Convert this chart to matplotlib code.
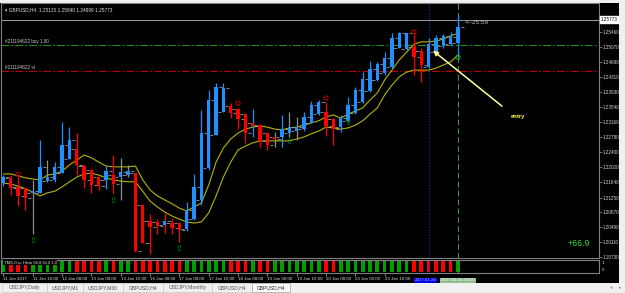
import matplotlib
matplotlib.use('Agg')
import matplotlib.pyplot as plt
import numpy as np
from matplotlib.patches import Rectangle
import matplotlib.transforms as mtrans

# ---------------- data ----------------
opens = [1.2162, 1.2175, 1.2152, 1.2149, 1.2137, 1.2137, 1.2167, 1.2170, 1.2187, 1.2223,
         1.2248, 1.2205, 1.2195, 1.2177, 1.2170, 1.2182, 1.2177, 1.2182, 1.2187, 1.2106,
         1.2065, 1.2063, 1.2055, 1.2060, 1.2060, 1.2045, 1.2070, 1.2119, 1.2200, 1.2284,
         1.2342, 1.2358, 1.2350, 1.2337, 1.2315, 1.2309, 1.2289, 1.2279, 1.2279, 1.2289,
         1.2294, 1.2299, 1.2315, 1.2337, 1.2342, 1.2325, 1.2304, 1.2320, 1.2340, 1.2368,
         1.2396, 1.2424, 1.2442, 1.2457, 1.2505, 1.2503, 1.2508, 1.2498, 1.2457, 1.2495,
         1.2510, 1.2515, 1.2518]
highs = [1.2182, 1.2182, 1.2182, 1.2152, 1.2170, 1.2271, 1.2220, 1.2215, 1.2317, 1.2304,
         1.2289, 1.2208, 1.2198, 1.2177, 1.2205, 1.2233, 1.2226, 1.2208, 1.2187, 1.2106,
         1.2083, 1.2070, 1.2086, 1.2073, 1.2060, 1.2114, 1.2185, 1.2348, 1.2398, 1.2416,
         1.2416, 1.2365, 1.2353, 1.2337, 1.2350, 1.2312, 1.2292, 1.2292, 1.2335, 1.2342,
         1.2330, 1.2342, 1.2370, 1.2373, 1.2368, 1.2327, 1.2335, 1.2381, 1.2406, 1.2444,
         1.2472, 1.2470, 1.2495, 1.2543, 1.2546, 1.2543, 1.2543, 1.2505, 1.2531, 1.2538,
         1.2541, 1.2546, 1.2589]
lows = [1.2154, 1.2131, 1.2103, 1.2093, 1.2032, 1.2137, 1.2165, 1.2165, 1.2187, 1.2223,
        1.2182, 1.2149, 1.2137, 1.2144, 1.2147, 1.2137, 1.2119, 1.2177, 1.1986, 1.2009,
        1.1981, 1.2032, 1.2035, 1.2032, 1.2012, 1.2040, 1.2068, 1.2106, 1.2195, 1.2284,
        1.2342, 1.2327, 1.2299, 1.2264, 1.2279, 1.2253, 1.2246, 1.2253, 1.2253, 1.2279,
        1.2271, 1.2294, 1.2315, 1.2335, 1.2281, 1.2259, 1.2292, 1.2317, 1.2337, 1.2365,
        1.2393, 1.2421, 1.2437, 1.2454, 1.2505, 1.2500, 1.2437, 1.2419, 1.2454, 1.2493,
        1.2505, 1.2513, 1.2482]
closes = [1.2177, 1.2149, 1.2129, 1.2124, 1.2141, 1.2203, 1.2177, 1.2203, 1.2259, 1.2271,
          1.2208, 1.2170, 1.2157, 1.2154, 1.2192, 1.2159, 1.2190, 1.2192, 1.1989, 1.2009,
          1.2050, 1.2053, 1.2065, 1.2048, 1.2042, 1.2093, 1.2152, 1.2289, 1.2373, 1.2406,
          1.2404, 1.2340, 1.2325, 1.2289, 1.2307, 1.2269, 1.2259, 1.2274, 1.2299, 1.2304,
          1.2304, 1.2330, 1.2360, 1.2368, 1.2307, 1.2299, 1.2327, 1.2360, 1.2398, 1.2426,
          1.2452, 1.2465, 1.2480, 1.2531, 1.2543, 1.2543, 1.2482, 1.2462, 1.2515, 1.2531,
          1.2536, 1.2533, 1.2559]
# trend state of each bar's wick: b = up, r = down, g = neutral
wick_state = ("brrrgbgbbb" "rrrrbrggrr" "rrrrrbbbbb" "brrrbrrgbg"
              "gbbbrrbbbb" "bbbbbbrrbb" "bbb")

band_upper = [1.2185, 1.2185, 1.2180, 1.2175, 1.2172, 1.2170, 1.2182, 1.2185, 1.2192, 1.2208,
              1.2220, 1.2233, 1.2226, 1.2215, 1.2205, 1.2203, 1.2203, 1.2203, 1.2205, 1.2170,
              1.2144, 1.2129, 1.2119, 1.2109, 1.2098, 1.2091, 1.2101, 1.2111, 1.2157, 1.2215,
              1.2251, 1.2274, 1.2289, 1.2299, 1.2304, 1.2307, 1.2304, 1.2299, 1.2297, 1.2302,
              1.2304, 1.2309, 1.2315, 1.2320, 1.2330, 1.2335, 1.2327, 1.2337, 1.2345, 1.2353,
              1.2373, 1.2391, 1.2424, 1.2449, 1.2475, 1.2495, 1.2515, 1.2521, 1.2521, 1.2523,
              1.2528, 1.2536, 1.2543]
band_lower = [1.2162, 1.2159, 1.2154, 1.2147, 1.2139, 1.2129, 1.2137, 1.2141, 1.2152, 1.2165,
              1.2177, 1.2185, 1.2187, 1.2182, 1.2175, 1.2170, 1.2167, 1.2165, 1.2165, 1.2141,
              1.2116, 1.2101, 1.2088, 1.2078, 1.2070, 1.2063, 1.2060, 1.2063, 1.2086, 1.2129,
              1.2177, 1.2215, 1.2246, 1.2256, 1.2264, 1.2269, 1.2269, 1.2269, 1.2269, 1.2269,
              1.2274, 1.2279, 1.2287, 1.2294, 1.2304, 1.2302, 1.2299, 1.2302, 1.2309, 1.2320,
              1.2337, 1.2353, 1.2386, 1.2411, 1.2432, 1.2444, 1.2449, 1.2449, 1.2449, 1.2454,
              1.2462, 1.2470, 1.2487]

sell_sig_idx = [2, 32, 44, 56]
sell_sig_px = [1.2184, 1.2365, 1.2378, 1.2546]
buy_sig_idx = [4, 15, 24, 39, 47]
buy_sig_px = [1.2027, 1.2129, 1.2007, 1.2279, 1.2327]
exit_sig_idx = [62]
exit_sig_px = [1.2482]

# oscillator histogram state (1 = green, 0 = red)
osc_state = [1, 0, 0, 0, 1, 1, 1, 1, 1, 1,
             0, 0, 0, 0, 1, 0, 1, 1, 0, 0,
             0, 0, 0, 0, 0, 1, 1, 1, 1, 1,
             1, 0, 0, 0, 1, 0, 0, 1, 1, 1,
             1, 1, 1, 1, 0, 0, 1, 1, 1, 1,
             1, 1, 1, 1, 1, 1, 0, 0, 0, 0,
             0, 0, 1]

price_ticks = [1.19730, 1.20110, 1.20490, 1.20870, 1.21250, 1.21640, 1.22020, 1.22400,
               1.22780, 1.23160, 1.23540, 1.23930, 1.24310, 1.24690, 1.25070, 1.25460]
time_idx = [0, 4, 8, 12, 16, 20, 24, 28, 32, 36, 40, 44, 48, 52]
time_labels = ["11 Jan 2017", "11 Jan 16:00", "12 Jan 08:00", "13 Jan 00:00", "13 Jan 16:00",
               "16 Jan 08:00", "17 Jan 00:00", "17 Jan 16:00", "18 Jan 08:00", "19 Jan 00:00",
               "19 Jan 16:00", "20 Jan 08:00", "23 Jan 00:00", "23 Jan 16:00"]
current_price = 1.25773
buy_price = 1.2513
sl_price = 1.24468
tabs = ["USDJPY,Daily", "USDJPY,M1", "USDJPY,M30", "GBPUSD,H4", "USDJPY,Monthly", "GBPUSD,H4", "GBPUSD,H4"]

# ---------------- figure ----------------
W, H = 625, 293
fig = plt.figure(figsize=(W / 100, H / 100), dpi=100, facecolor='#f0f0f0')
FONT = 'Liberation Sans'
plt.rcParams['font.family'] = [FONT, 'DejaVu Sans']


def fx(px):
    return px / W


def fy(py):
    return 1 - py / H


bg = fig.add_axes([0, fy(283), fx(619), (283 - 3) / H])
bg.set_facecolor('black')
bg.set_xticks([]); bg.set_yticks([])
for s in bg.spines.values():
    s.set_visible(False)

XL = (-0.27, 81.24)
ax = fig.add_axes([fx(1.5), fy(258), fx(599 - 1.5), (258 - 3) / H])
ax.set_facecolor('black')
ax.set_xlim(*XL)
ax.set_ylim(1.19712, 1.26197)
for s in ax.spines.values():
    s.set_color('#808080'); s.set_linewidth(0.8)

x = np.arange(len(opens))
o = np.array(opens); c = np.array(closes); h = np.array(highs); l = np.array(lows)
cmap = {'b': '#1e90ff', 'r': '#ff0000', 'g': '#909090'}
wcols = [cmap[s] for s in wick_state]
bcols = ['#1e90ff' if cc >= oo else '#ff0000' for oo, cc in zip(o, c)]

# bands
ax.plot(x, band_upper, color='#b4b400', lw=0.8, zorder=2)
ax.plot(x, band_lower, color='#b4b400', lw=0.8, zorder=2)

# gray open/close ticks
ax.hlines(o, x - 0.8, x - 0.35, color='#9a9a9a', lw=0.6, zorder=3)
ax.hlines(c, x + 0.35, x + 0.8, color='#9a9a9a', lw=0.6, zorder=3)
# wicks and bodies
ax.vlines(x, l, h, colors=wcols, lw=0.9, zorder=3)
bot = np.minimum(o, c)
ht = np.maximum(np.abs(c - o), 0.00026)
ax.bar(x, ht, bottom=bot, width=0.45, color=bcols, linewidth=0, zorder=4)

# order lines
ax.axhline(buy_price, color='#1f8f1f', lw=0.8, ls=(0, (7, 2, 1.5, 2)), zorder=1)
ax.axhline(sl_price, color='#c00000', lw=0.8, ls=(0, (7, 2, 1.5, 2)), zorder=1)
ax.axhline(current_price, color='#9a9a9a', lw=0.7, zorder=1)

# vertical lines
ax.axvline(62, color='#3c9a3c', lw=0.8, ls=(0, (5, 3)), zorder=1)
ax.axvline(58, color='#2020d0', lw=0.8, ls=(0, (1, 1.5)), zorder=1)

# signals
ax.scatter(sell_sig_idx, sell_sig_px, s=9, facecolors='none', edgecolors='#b00000', lw=0.8, zorder=5)
ax.scatter(exit_sig_idx, exit_sig_px, s=9, facecolors='none', edgecolors='#20a020', lw=0.8, zorder=5)
for i, p in zip(buy_sig_idx, buy_sig_px):
    ax.text(i, p, '\u21e7', color='#00a000', fontsize=6, ha='center', va='top',
            family='DejaVu Sans', zorder=5)

# texts
ax.text(0.006, 0.985, '\u25be GBPUSD,H4  1.25115 1.25840 1.24899 1.25773', transform=ax.transAxes,
        color='#e0e0e0', fontsize=3.4, ha='left', va='top', family=[FONT, 'DejaVu Sans'])
ax.text(0.006, buy_price + 0.0003, '#211194622 buy 1.00', color='#c8c8c8', fontsize=3.3,
        ha='left', va='bottom', transform=mtrans.blended_transform_factory(ax.transAxes, ax.transData))
ax.text(0.006, sl_price + 0.0003, '#211194622 sl', color='#c8c8c8', fontsize=3.3,
        ha='left', va='bottom', transform=mtrans.blended_transform_factory(ax.transAxes, ax.transData))
ax.text(62.9, 1.2571, '<--25:59', color='#c8c8c8', fontsize=4.6, ha='left', va='center')
ax.annotate('', xy=(58.3, 1.2503), xytext=(68.3, 1.2353),
            arrowprops=dict(arrowstyle='-|>', color='#ffff99', lw=1.1, mutation_scale=7), zorder=6)
ax.text(69.2, 1.2332, 'entry', color='#ffff40', fontsize=4.2, ha='left', va='center', fontweight='bold')
ax.text(0.948, 0.058, '+66.9', transform=ax.transAxes, color='#33dd33', fontsize=6.3,
        ha='left', va='center')

# price axis
ax.yaxis.tick_right()
ax.set_yticks(price_ticks)
ax.set_yticklabels(['%.5f' % p for p in price_ticks])
ax.tick_params(axis='y', colors='#808080', labelcolor='#d8d8d8', labelsize=3.3, length=2, width=0.6, pad=1)
ax.set_xticks([])
ax.text(1.003, current_price, '%.5f' % current_price, transform=mtrans.blended_transform_factory(ax.transAxes, ax.transData),
        color='black', fontsize=3.3, ha='left', va='center',
        bbox=dict(boxstyle='square,pad=0.15', fc='white', ec='white'))

# oscillator sub window
sub = fig.add_axes([fx(1.5), fy(273), fx(599 - 1.5), (273 - 259.5) / H])
sub.set_facecolor('black')
sub.set_xlim(*XL)
sub.set_ylim(-0.09, 1.14)
for s in sub.spines.values():
    s.set_color('#808080'); s.set_linewidth(0.8)
ocols = ['#00a000' if v else '#ff0000' for v in osc_state]
sub.bar(x, [1] * len(osc_state), width=0.5, color=ocols, linewidth=0)
sub.axvline(62, color='#3c9a3c', lw=0.8, ls=(0, (5, 3)))
sub.axvline(58, color='#2020d0', lw=0.8, ls=(0, (1, 1.5)))
sub.text(0.004, 0.75, 'TMS-Osc Histo 66.8 65.6 1.0', transform=sub.transAxes, color='#e0e0e0',
         fontsize=3.0, ha='left', va='center',
         bbox=dict(boxstyle='square,pad=0.1', fc='black', ec='none'))
sub.set_yticks([])
sub.text(1.004, 0.75, '1', transform=sub.transAxes, color='#d8d8d8', fontsize=3.2, ha='left', va='center')
sub.text(1.004, 0.22, '0', transform=sub.transAxes, color='#d8d8d8', fontsize=3.2, ha='left', va='center')
sub.set_xticks(time_idx)
sub.set_xticklabels(time_labels, ha='left', fontsize=3.2, color='#d8d8d8')
sub.tick_params(axis='x', colors='#a0a0a0', labelcolor='#d8d8d8', length=2, width=0.6, pad=1)
tr = mtrans.blended_transform_factory(sub.transData, sub.transAxes)
sub.text(62, -0.55, '2017.01.25 08:00', transform=tr, color='#ffffff', fontsize=3.2, ha='center', va='center',
         bbox=dict(boxstyle='square,pad=0.15', fc='#8fbc8f', ec='none'))
sub.text(59.05, -0.55, '2017.01.24', transform=tr, color='#c0c0ff', fontsize=3.2, ha='right', va='center',
         bbox=dict(boxstyle='square,pad=0.15', fc='#0000ee', ec='none'))

# tab bar
tb = fig.add_axes([0, 0, 1, 10 / H])
tb.set_xlim(0, W); tb.set_ylim(10, 0)
tb.set_facecolor('#f0f0f0')
tb.axis('off')
edges = [2, 47, 83, 123, 163, 212, 252, 290]
for k, name in enumerate(tabs):
    x0, x1 = edges[k], edges[k + 1]
    active = (k == len(tabs) - 1)
    tb.add_patch(Rectangle((x0, 0.3), x1 - x0, 8.5, fc='white' if active else '#f0f0f0',
                           ec='#a0a0a0' if active else '#c8c8c8', lw=0.5))
    tb.text((x0 + x1) / 2, 4.5, name, color='#202020' if active else '#505050', fontsize=3.6,
            ha='center', va='center')
tb.text(611, 4.5, '\u25c2', color='#909090', fontsize=3.5, ha='center', va='center', family='DejaVu Sans')
tb.text(620, 4.5, '\u25b8', color='#909090', fontsize=3.5, ha='center', va='center', family='DejaVu Sans')

fig.savefig('out.png', dpi=100, facecolor=fig.get_facecolor())
